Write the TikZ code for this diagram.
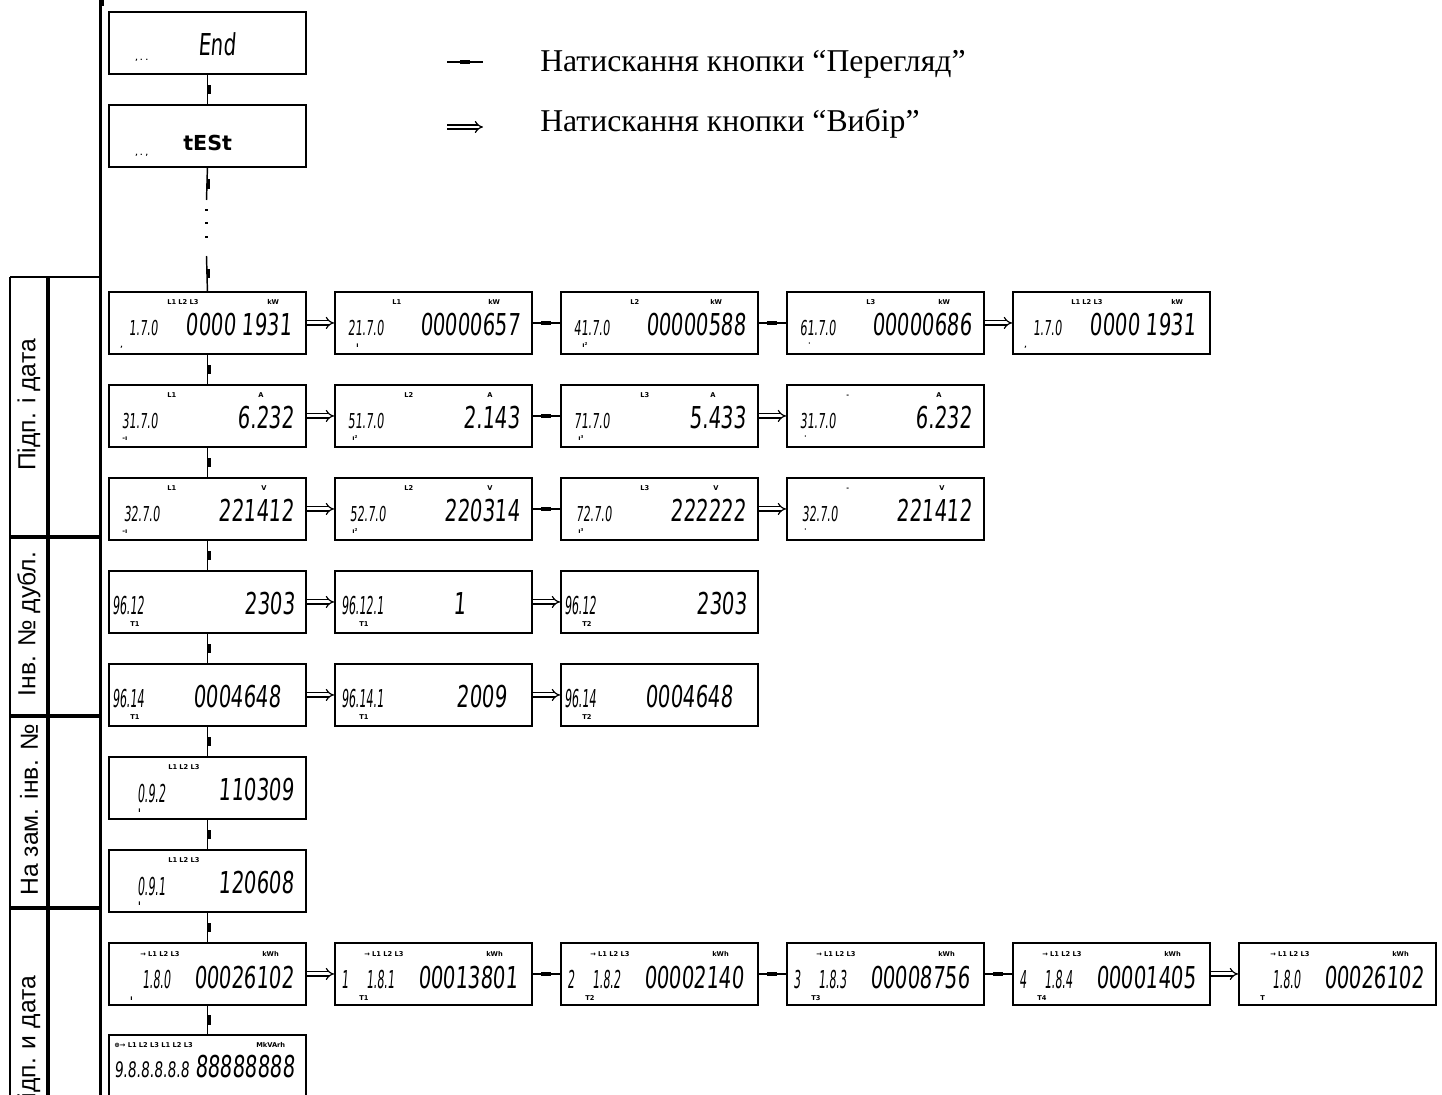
\documentclass[tikz,border=0pt]{standalone}
\usepackage{fontspec}
\setmainfont{Liberation Serif}
\newfontfamily\lcdf[FakeStretch=0.65,FakeSlant=0.08]{DejaVu Sans}
\newfontfamily\codef[FakeStretch=0.55,FakeSlant=0.08]{DejaVu Sans}
\newfontfamily\codeLf[FakeStretch=0.45,FakeSlant=0.08]{DejaVu Sans}
\newfontfamily\indf{DejaVu Sans}
\newfontfamily\sidef{Liberation Sans}
\usetikzlibrary{calc,arrows.meta}
\newcounter{tn}
\newcommand\lbl[4][ind]{\stepcounter{tn}\node[#1] (t\arabic{tn}) at ($(#2.north west)+(#3)$) {#4};}
\tikzset{
 lcdbox/.style={draw, line width=1.4pt, minimum width=147.75pt, minimum height=46.5pt, inner sep=0pt, anchor=north west},
 bigd/.style={inner sep=0pt, anchor=base east, font=\lcdf\fontsize{22.6}{22.6}\selectfont},
 bigw/.style={bigd, anchor=base west},
 smd/.style={inner sep=0pt, anchor=base east, font=\codef\fontsize{15.4}{15.4}\selectfont},
 lgd/.style={inner sep=0pt, anchor=base west, font=\codeLf\fontsize{18.5}{18.5}\selectfont},
 tstf/.style={inner sep=0pt, anchor=base west, font=\indf\bfseries\fontsize{15.5}{15.5}\selectfont},
 segs/.style={inner sep=0pt, anchor=base west, font=\lcdf\fontsize{16}{16}\selectfont},
 ind/.style={inner sep=0pt, anchor=base west, font=\indf\bfseries\fontsize{5}{5}\selectfont},
 conn/.style={line width=1.1pt},
 sel/.style={double, double distance=2.2pt, line width=0.9pt, -{Implies}},
 vmark/.style={fill, inner sep=0pt, minimum width=2.6pt, minimum height=7pt},
 hmark/.style={fill, inner sep=0pt, minimum width=7.5pt, minimum height=3.2pt},
 dotm/.style={fill, inner sep=0pt, minimum width=2.2pt, minimum height=2.2pt},
 side/.style={rotate=90, inner sep=0pt, font=\sidef\fontsize{18.5}{18.5}\selectfont},
 legt/.style={inner sep=0pt, anchor=base west, font=\fontsize{23.8}{23.8}\selectfont},
}
\begin{document}
\begin{tikzpicture}[x=0.75pt,y=-0.75pt]
\useasboundingbox (0,0) rectangle (1442,1095);
\clip (0,0) rectangle (1442,1095);
% ---------- left frame / table
\draw[line width=2.25pt] (100,0) -- (100,1095);
\fill (98.5,0) rectangle (103.5,6);
\draw[line width=1.5pt] (10,277) -- (100,277);
\draw[line width=1.5pt] (10,277) -- (10,1095);
\draw[line width=3pt] (48,277) -- (48,1095);
\draw[line width=3pt] (10,537) -- (100,537);
\draw[line width=3pt] (10,716) -- (100,716);
\draw[line width=3pt] (10,908) -- (100,908);
\node[side] (s1) at (29,405) {Підп. і дата};
\node[side] (s2) at (29,624) {Інв. № дубл.};
\node[side] (s3) at (29,810) {На зам. інв. №};
\node[side] (s4) at (29,1046) {Підп. и дата};
% ---------- legend
\coordinate (lv1) at (447,62); \coordinate (lv2) at (483,62);
\draw[conn] (lv1) -- (lv2) node[midway,hmark] (lm) {};
\node[legt] (lt1) at (540,72) {Натискання кнопки “Перегляд”};
\coordinate (ls1) at (447,127); \coordinate (ls2) at (483,127);
\draw[sel] (ls1) -- (ls2);
\node[legt] (lt2) at (540,132) {Натискання кнопки “Вибір”};
% ---------- boxes
\node[lcdbox] (end) at (108,11) {};
\lbl{end}{27,50}{, . .}
\lbl[bigw]{end}{90,45}{End}
\node[lcdbox] (test) at (108,104) {};
\lbl{test}{27,52}{, . ,}
\lbl[tstf]{test}{75,47}{tESt}
% row 1
\node[lcdbox] (a1) at (108,291) {};
\node[lcdbox] (a2) at (334,291) {};
\node[lcdbox] (a3) at (560,291) {};
\node[lcdbox] (a4) at (786,291) {};
\node[lcdbox] (a5) at (1012,291) {};
\lbl[smd]{a1}{50,44}{1.7.0} \lbl[bigd]{a1}{184,44}{0000 1931}
\lbl{a1}{59,13}{L1 L2 L3} \lbl{a1}{159,13}{kW} \lbl{a1}{12,56}{,}
\lbl[smd]{a2}{50,44}{21.7.0} \lbl[bigd]{a2}{186,44}{00000657}
\lbl{a2}{58,13}{L1} \lbl{a2}{154,13}{kW} \lbl{a2}{22,56}{ı}
\lbl[smd]{a3}{50,44}{41.7.0} \lbl[bigd]{a3}{186,44}{00000588}
\lbl{a3}{70,13}{L2} \lbl{a3}{150,13}{kW} \lbl{a3}{22,56}{ı²}
\lbl[smd]{a4}{50,44}{61.7.0} \lbl[bigd]{a4}{186,44}{00000686}
\lbl{a4}{80,13}{L3} \lbl{a4}{152,13}{kW} \lbl{a4}{22,56}{'}
\lbl[smd]{a5}{50,44}{1.7.0} \lbl[bigd]{a5}{184,44}{0000 1931}
\lbl{a5}{59,13}{L1 L2 L3} \lbl{a5}{159,13}{kW} \lbl{a5}{12,56}{,}
% row 2
\node[lcdbox] (b1) at (108,384) {};
\node[lcdbox] (b2) at (334,384) {};
\node[lcdbox] (b3) at (560,384) {};
\node[lcdbox] (b4) at (786,384) {};
\lbl[smd]{b1}{50,44}{31.7.0} \lbl[bigd]{b1}{186,44}{6.232}
\lbl{b1}{59,13}{L1} \lbl{b1}{150,13}{A} \lbl{b1}{14,56}{-ı}
\lbl[smd]{b2}{50,44}{51.7.0} \lbl[bigd]{b2}{186,44}{2.143}
\lbl{b2}{70,13}{L2} \lbl{b2}{153,13}{A} \lbl{b2}{18,56}{ı²}
\lbl[smd]{b3}{50,44}{71.7.0} \lbl[bigd]{b3}{186,44}{5.433}
\lbl{b3}{80,13}{L3} \lbl{b3}{150,13}{A} \lbl{b3}{18,56}{ı³}
\lbl[smd]{b4}{50,44}{31.7.0} \lbl[bigd]{b4}{186,44}{6.232}
\lbl{b4}{60,13}{-} \lbl{b4}{150,13}{A} \lbl{b4}{18,56}{'}
% row 3
\node[lcdbox] (c1) at (108,477) {};
\node[lcdbox] (c2) at (334,477) {};
\node[lcdbox] (c3) at (560,477) {};
\node[lcdbox] (c4) at (786,477) {};
\lbl[smd]{c1}{52,44}{32.7.0} \lbl[bigd]{c1}{186,44}{221412}
\lbl{c1}{59,13}{L1} \lbl{c1}{153,13}{V} \lbl{c1}{14,56}{-ı}
\lbl[smd]{c2}{52,44}{52.7.0} \lbl[bigd]{c2}{186,44}{220314}
\lbl{c2}{70,13}{L2} \lbl{c2}{153,13}{V} \lbl{c2}{18,56}{ı²}
\lbl[smd]{c3}{52,44}{72.7.0} \lbl[bigd]{c3}{186,44}{222222}
\lbl{c3}{80,13}{L3} \lbl{c3}{153,13}{V} \lbl{c3}{18,56}{ı³}
\lbl[smd]{c4}{52,44}{32.7.0} \lbl[bigd]{c4}{186,44}{221412}
\lbl{c4}{60,13}{-} \lbl{c4}{153,13}{V} \lbl{c4}{18,56}{'}
% row 4
\node[lcdbox] (d1) at (108,570) {};
\node[lcdbox] (d2) at (334,570) {};
\node[lcdbox] (d3) at (560,570) {};
\lbl[lgd]{d1}{4,44}{96.12} \lbl[bigd]{d1}{187,44}{2303} \lbl{d1}{22,56}{T1}
\lbl[lgd]{d2}{7,44}{96.12.1} \lbl[bigd]{d2}{132,44}{1} \lbl{d2}{25,56}{T1}
\lbl[lgd]{d3}{4,44}{96.12} \lbl[bigd]{d3}{187,44}{2303} \lbl{d3}{22,56}{T2}
% row 5
\node[lcdbox] (e1) at (108,663) {};
\node[lcdbox] (e2) at (334,663) {};
\node[lcdbox] (e3) at (560,663) {};
\lbl[lgd]{e1}{4,44}{96.14} \lbl[bigd]{e1}{173,44}{0004648} \lbl{e1}{22,56}{T1}
\lbl[lgd]{e2}{7,44}{96.14.1} \lbl[bigd]{e2}{173,44}{2009} \lbl{e2}{25,56}{T1}
\lbl[lgd]{e3}{4,44}{96.14} \lbl[bigd]{e3}{173,44}{0004648} \lbl{e3}{22,56}{T2}
% row 6, 7
\node[lcdbox] (f1) at (108,756) {};
\lbl[lgd]{f1}{29,46}{0.9.2} \lbl[bigd]{f1}{186,44}{110309}
\lbl{f1}{60,13}{L1 L2 L3} \lbl{f1}{30,56}{ı}
\node[lcdbox] (k1) at (108,849) {};
\lbl[lgd]{k1}{29,46}{0.9.1} \lbl[bigd]{k1}{186,44}{120608}
\lbl{k1}{60,13}{L1 L2 L3} \lbl{k1}{30,56}{ı}
% row 8
\node[lcdbox] (g1) at (108,942) {};
\node[lcdbox] (g2) at (334,942) {};
\node[lcdbox] (g3) at (560,942) {};
\node[lcdbox] (g4) at (786,942) {};
\node[lcdbox] (g5) at (1012,942) {};
\node[lcdbox] (g6) at (1238,942) {};
\lbl[lgd]{g1}{34,46}{1.8.0} \lbl[bigd]{g1}{186,46}{00026102}
\lbl{g1}{32,14}{→ L1 L2 L3} \lbl{g1}{154,14}{kWh} \lbl{g1}{22,58}{ı}
\lbl[lgd]{g2}{7,46}{1} \lbl[lgd]{g2}{32,46}{1.8.1} \lbl[bigd]{g2}{184,46}{00013801}
\lbl{g2}{30,14}{→ L1 L2 L3} \lbl{g2}{152,14}{kWh} \lbl{g2}{25,58}{T1}
\lbl[lgd]{g3}{7,46}{2} \lbl[lgd]{g3}{32,46}{1.8.2} \lbl[bigd]{g3}{184,46}{00002140}
\lbl{g3}{30,14}{→ L1 L2 L3} \lbl{g3}{152,14}{kWh} \lbl{g3}{25,58}{T2}
\lbl[lgd]{g4}{7,46}{3} \lbl[lgd]{g4}{32,46}{1.8.3} \lbl[bigd]{g4}{184,46}{00008756}
\lbl{g4}{30,14}{→ L1 L2 L3} \lbl{g4}{152,14}{kWh} \lbl{g4}{25,58}{T3}
\lbl[lgd]{g5}{7,46}{4} \lbl[lgd]{g5}{32,46}{1.8.4} \lbl[bigd]{g5}{184,46}{00001405}
\lbl{g5}{30,14}{→ L1 L2 L3} \lbl{g5}{152,14}{kWh} \lbl{g5}{25,58}{T4}
\lbl[lgd]{g6}{34,46}{1.8.0} \lbl[bigd]{g6}{186,46}{00026102}
\lbl{g6}{32,14}{→ L1 L2 L3} \lbl{g6}{154,14}{kWh} \lbl{g6}{22,58}{T}
% row 9
\node[lcdbox] (h1) at (108,1034) {};
\lbl{h1}{6,13}{⊕→ L1 L2 L3 L1 L2 L3} \lbl{h1}{148,13}{MkVArh}
\lbl[segs]{h1}{6,43}{9.8.8.8.8.8} \lbl[bigd]{h1}{187,43}{88888888}
% ---------- vertical connectors
\draw[conn] (end.south) -- (test.north) node[midway,vmark,xshift=1.2pt] (vm1) {};
\coordinate (q1) at (206.5,200); \coordinate (q2) at (206.5,256);
\draw[conn] (test.south) -- (q1) node[midway,vmark,xshift=1.2pt] (vm2) {};
\node[dotm] (dt1) at (206.5,210) {};
\node[dotm] (dt2) at (206.5,223) {};
\node[dotm] (dt3) at (206.5,237) {};
\draw[conn] (q2) -- (a1.north) node[midway,vmark,xshift=1.2pt] (vm3) {};
\foreach \u/\v [count=\i] in {a1/b1,b1/c1,c1/d1,d1/e1,e1/f1,f1/k1,k1/g1,g1/h1}
  \draw[conn] (\u.south) -- (\v.north) node[midway,vmark,xshift=1.2pt] (vv\i) {};
% ---------- horizontal connectors
\foreach \u/\v in {a1/a2,a4/a5,b1/b2,b3/b4,c1/c2,c3/c4,d1/d2,d2/d3,e1/e2,e2/e3,g1/g2,g5/g6}
  \draw[sel] (\u.east) -- (\v.west);
\foreach \u/\v [count=\i] in {a2/a3,a3/a4,b2/b3,c2/c3,g2/g3,g3/g4,g4/g5}
  \draw[conn] (\u.east) -- (\v.west) node[midway,hmark] (hm\i) {};
\end{tikzpicture}
\end{document}
